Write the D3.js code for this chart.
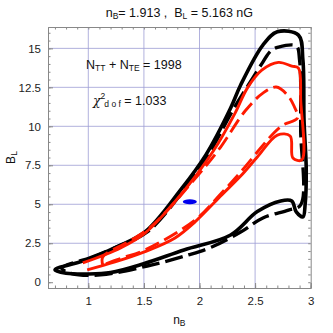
<!DOCTYPE html>
<html lang="en">
<head>
<meta charset="UTF-8">
<title>nB vs BL contours</title>
<script src="https://cdn.jsdelivr.net/npm/d3@7"></script>
<style>
  body { margin: 0; background: #fff; }
  svg { font-family: "Liberation Sans", Arial, sans-serif; }
  .tick text { font-size: 11.5px; fill: #222; }
  .grid line { stroke: #9d9dd4; stroke-width: 0.8; }
</style>
</head>
<body>
<script>
// contour traces, [nB, BL]
const blackSolid = [
  [0.70, 0.79], [1.00, 1.47], [1.25, 2.25], [1.51, 3.22], [1.83, 5.92], [2.06, 8.2],
  [2.28, 11.17], [2.37, 12.65], [2.57, 15.21], [2.70, 16.06], [2.89, 15.85],
  [2.93, 14.25], [2.94, 10.4], [2.96, 7.19], [2.95, 5.0], [2.93, 4.19],
  [2.87, 4.51], [2.83, 5.21], [2.73, 5.21], [2.52, 4.53], [2.28, 3.03],
  [1.86, 2.07], [1.49, 1.17], [1.20, 0.62], [0.99, 0.53], [0.80, 0.58]
];
const blackDashed = [
  [0.76, 0.92], [1.015, 1.56], [1.27, 2.3], [1.53, 3.22], [1.86, 5.92], [2.08, 8.2],
  [2.30, 11.04], [2.44, 12.65], [2.57, 14.12], [2.64, 14.83], [2.71, 15.08],
  [2.87, 15.15], [2.90, 14.25], [2.91, 9.76], [2.91, 4.96], [2.80, 4.63],
  [2.57, 4.12], [2.37, 3.22], [2.11, 2.26], [1.90, 1.75], [1.53, 1.04],
  [1.11, 0.47], [0.85, 0.55]
];
const redSolid = [
  [0.95, 1.24], [1.29, 2.20], [1.51, 3.15], [1.83, 5.60], [2.13, 8.48], [2.32, 10.85],
  [2.43, 12.45], [2.56, 13.6], [2.71, 14.1], [2.83, 13.86], [2.89, 13.73],
  [2.91, 11.68], [2.92, 7.84], [2.84, 7.97], [2.815, 9.38], [2.70, 9.44],
  [2.52, 8.03], [2.37, 6.81], [2.20, 5.60], [1.96, 3.87], [1.78, 2.84],
  [1.51, 1.96], [1.24, 1.30], [0.99, 0.79]
];
const redDashed = [
  [1.13, 1.11], [1.13, 1.62], [1.36, 2.6], [1.56, 3.54], [1.98, 6.81], [2.19, 8.67],
  [2.41, 10.98], [2.57, 12.13], [2.69, 12.52], [2.79, 12.01], [2.85, 11.30],
  [2.88, 10.53], [2.75, 10.08], [2.66, 9.51], [2.55, 8.61], [2.37, 7.07],
  [2.19, 5.66], [1.96, 3.99], [1.51, 2.07], [1.30, 1.55], [1.13, 1.11]
];
const bestFit = [1.913, 5.163];
const xTicks = [1, 1.5, 2, 2.5, 3];
const yTicks = [0, 2.5, 5, 7.5, 10, 12.5, 15];

const W = 333, H = 333;
const pLeft = 48, pRight = 310.7, pTop = 27, pBottom = 288;

const svg = d3.select('body').append('svg')
  .attr('width', W).attr('height', H);

const x = d3.scaleLinear().domain([0.6375, 3]).range([pLeft, pRight]);
const y = d3.scaleLinear().domain([-0.37, 16.37]).range([pBottom, pTop]);

// grid
const grid = svg.append('g').attr('class', 'grid');
grid.selectAll('.gx').data(xTicks.filter(d => d < 3)).enter().append('line')
  .attr('x1', d => x(d)).attr('x2', d => x(d)).attr('y1', pTop).attr('y2', pBottom);
grid.selectAll('.gy').data(yTicks.filter(d => d > 0)).enter().append('line')
  .attr('y1', d => y(d)).attr('y2', d => y(d)).attr('x1', pLeft).attr('x2', pRight);

// axes with minor ticks on all four sides
const xMinor = d3.range(0.7, 3.001, 0.1);
const yMinor = d3.range(0, 16.01, 0.5);

function frameAxis(axis, tr, labels) {
  const g = svg.append('g').attr('transform', tr).call(axis);
  g.select('.domain').attr('stroke', '#888');
  g.selectAll('.tick line').attr('stroke', '#888');
  if (!labels) g.selectAll('.tick text').remove();
  return g;
}
frameAxis(d3.axisBottom(x).tickValues(xTicks).tickSize(-5).tickPadding(9)
  .tickFormat(d3.format('')), `translate(0,${pBottom})`, true);
frameAxis(d3.axisBottom(x).tickValues(xMinor).tickSize(-2.5).tickSizeOuter(0),
  `translate(0,${pBottom})`, false);
frameAxis(d3.axisTop(x).tickValues(xMinor).tickSize(-2.5).tickSizeOuter(0),
  `translate(0,${pTop})`, false);
frameAxis(d3.axisLeft(y).tickValues(yTicks).tickSize(-5).tickPadding(7)
  .tickFormat(d3.format('')), `translate(${pLeft},0)`, true);
frameAxis(d3.axisLeft(y).tickValues(yMinor).tickSize(-2.5).tickSizeOuter(0),
  `translate(${pLeft},0)`, false);
frameAxis(d3.axisRight(y).tickValues(yMinor).tickSize(-2.5).tickSizeOuter(0),
  `translate(${pRight},0)`, false);

// contours
svg.append('clipPath').attr('id', 'plotclip').append('rect')
  .attr('x', pLeft).attr('y', pTop).attr('width', pRight - pLeft).attr('height', pBottom - pTop);
const plot = svg.append('g').attr('clip-path', 'url(#plotclip)');

const lineOpen = d3.line().x(d => x(d[0])).y(d => y(d[1])).curve(d3.curveCatmullRom.alpha(0.5));
const lineClosed = d3.line().x(d => x(d[0])).y(d => y(d[1])).curve(d3.curveCatmullRomClosed.alpha(0.5));

plot.append('path').attr('d', lineClosed(blackDashed))
  .attr('fill', 'none').attr('stroke', '#000').attr('stroke-width', 3.4)
  .attr('stroke-dasharray', '18,6');
plot.append('path').attr('d', lineClosed(blackSolid))
  .attr('fill', 'none').attr('stroke', '#000').attr('stroke-width', 3.6)
  .attr('stroke-linejoin', 'round');
plot.append('path').attr('d', lineOpen(redDashed))
  .attr('fill', 'none').attr('stroke', '#ff1a00').attr('stroke-width', 2.9)
  .attr('stroke-dasharray', '15,6');
plot.append('path').attr('d', lineOpen(redSolid))
  .attr('fill', 'none').attr('stroke', '#ff1a00').attr('stroke-width', 2.9)
  .attr('stroke-linejoin', 'round');

plot.append('ellipse')
  .attr('cx', x(bestFit[0])).attr('cy', y(bestFit[1]))
  .attr('rx', 7).attr('ry', 2.6).attr('fill', '#0000ee');

// title
const title = svg.append('text').attr('x', (pLeft + pRight) / 2).attr('y', 17)
  .attr('text-anchor', 'middle').attr('font-size', 12.5).attr('fill', '#111')
  .attr('xml:space', 'preserve');
title.append('tspan').text('n');
title.append('tspan').attr('font-size', 8.5).attr('dy', 2).text('B');
title.append('tspan').attr('dy', -2).text('= 1.913 ,  B');
title.append('tspan').attr('font-size', 8.5).attr('dy', 2).text('L');
title.append('tspan').attr('dy', -2).text(' = 5.163 nG');

// annotations
const a1 = svg.append('text').attr('x', 86).attr('y', 69)
  .attr('font-size', 12.5).attr('fill', '#111').attr('xml:space', 'preserve');
a1.append('tspan').text('N');
a1.append('tspan').attr('font-size', 8.5).attr('dy', 2).text('TT');
a1.append('tspan').attr('dy', -2).text(' + N');
a1.append('tspan').attr('font-size', 8.5).attr('dy', 2).text('TE');
a1.append('tspan').attr('dy', -2).text(' = 1998');

const a2 = svg.append('text').attr('x', 93).attr('y', 105)
  .attr('font-size', 12.5).attr('fill', '#111').attr('xml:space', 'preserve');
a2.append('tspan').attr('font-style', 'italic').attr('font-family', '"DejaVu Serif", serif').text('χ');
a2.append('tspan').attr('font-size', 8.5).attr('dy', -6).text('2');
a2.append('tspan').attr('font-size', 8.5).attr('dy', 8).attr('dx', -1).text('d o f');
a2.append('tspan').attr('dy', -2).text(' = 1.033');

// axis labels
const xl = svg.append('text').attr('x', (pLeft + pRight) / 2).attr('y', 324)
  .attr('text-anchor', 'middle').attr('font-size', 12).attr('fill', '#111');
xl.append('tspan').text('n');
xl.append('tspan').attr('font-size', 8.5).attr('dy', 2).text('B');

const yl = svg.append('text').attr('transform', `translate(15,${(pTop + pBottom) / 2}) rotate(-90)`)
  .attr('text-anchor', 'middle').attr('font-size', 12).attr('fill', '#111');
yl.append('tspan').text('B');
yl.append('tspan').attr('font-size', 8.5).attr('dy', 2).text('L');
</script>
</body>
</html>
